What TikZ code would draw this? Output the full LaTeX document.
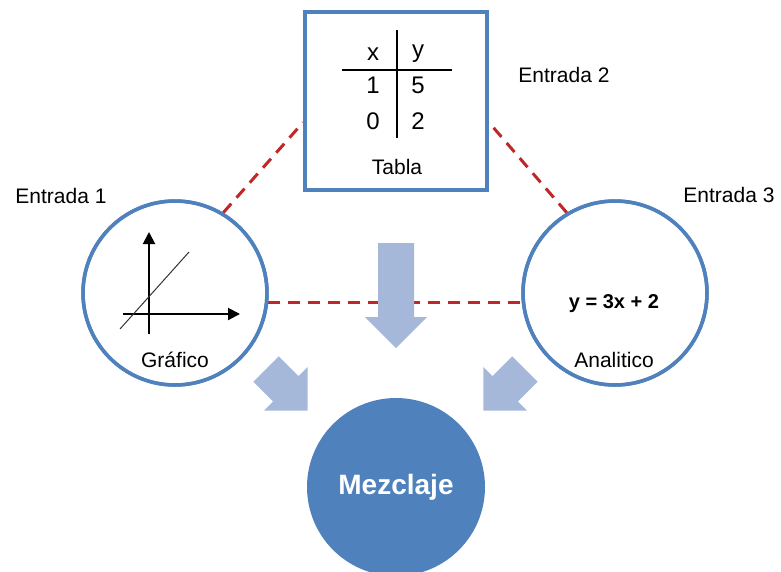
\documentclass[tikz,border=0pt]{standalone}
\usepackage{fontspec}
\setmainfont{Liberation Sans}
\usetikzlibrary{arrows.meta}
\definecolor{bord}{RGB}{79,129,189}
\definecolor{arrowc}{RGB}{166,184,218}
\definecolor{dashc}{RGB}{192,40,40}
\begin{document}
\begin{tikzpicture}[x=1pt,y=-1pt,
  lbl/.style={font=\fontsize{21}{21}\selectfont, inner sep=0},
  tabtxt/.style={font=\fontsize{24}{24}\selectfont, inner sep=0},
  ring/.style={circle, draw=bord, fill=white, line width=3.5pt, minimum size=184pt, inner sep=0},
  link/.style={draw=dashc, line width=3pt, dash pattern=on 12pt off 8pt},
  axis/.style={line width=2pt, -{Triangle[length=12pt,width=12pt]}},
  fatarrow/.pic={\fill[arrowc] (0,-18)--({#1-31},-18)--({#1-31},-31)--(#1,0)--({#1-31},31)--({#1-31},18)--(0,18)--cycle;}
]
\useasboundingbox (0,0) rectangle (781,571);
\clip (0,0) rectangle (781,571);

% nodes
\node[draw=bord, line width=4pt, minimum width=182pt, minimum height=178pt, inner sep=0] (tab) at (396,101) {};
\node[ring] (graf) at (175,293) {};
\node[ring] (anal) at (615,293) {};

% dashed links
\draw[link] (graf.59) -- (tab.193);
\draw[link] (anal.121) -- (tab.-13);
\draw[link] (graf.-6) -- (anal.186);

% redraw rings on top of dashed ends
\node[ring, fill=none] at (175,293) {};
\node[ring, fill=none] at (615,293) {};
\node[draw=bord, line width=4pt, minimum width=182pt, minimum height=178pt, inner sep=0] at (396,101) {};

% table
\draw[line width=1.5pt] (397,30) -- (397,138);
\draw[line width=1.5pt] (342,70) -- (452,70);
\node[tabtxt] (tx) at (373,54) {x};
\node[tabtxt] (ty) at (418,54) {y};
\node[tabtxt] (t1) at (373,85) {1};
\node[tabtxt] (t5) at (418,85) {5};
\node[tabtxt] (t0) at (373,121) {0};
\node[tabtxt] (t2) at (418,121) {2};
\node[lbl] (tabla) at (397,167) {Tabla};

% graph
\coordinate (vb) at (149,334);
\coordinate (vt) at (149,232);
\coordinate (hb) at (123,314);
\coordinate (ht) at (240,314);
\draw[axis] (vb) -- (vt);
\draw[axis] (hb) -- (ht);
\coordinate (d1) at (120,329);
\coordinate (d2) at (189,252);
\draw[line width=1pt, black!80] (d1) -- (d2);
\node[lbl] (gl) at (175,360) {Gráfico};

% analytic
\node[font=\bfseries\fontsize{20}{20}\selectfont, inner sep=0] (eq) at (614,304) {y = 3x + 2};
\node[lbl] (al) at (614,360) {Analitico};

% entries
\node[lbl] (e1) at (61,196) {Entrada 1};
\node[lbl] (e2) at (564,75) {Entrada 2};
\node[lbl] (e3) at (729,195) {Entrada 3};

% big arrows
\pic[rotate=-90] at (396,243) {fatarrow=105};
\pic[rotate=-45] at (266,369) {fatarrow=59};
\pic[rotate=-135] at (525,369) {fatarrow=59};

% mix
\node[circle, fill=bord, minimum size=178pt, inner sep=0, text=white,
      font=\bfseries\fontsize{28}{28}\selectfont] (mez) at (396,487) {Mezclaje};
\end{tikzpicture}
\end{document}
